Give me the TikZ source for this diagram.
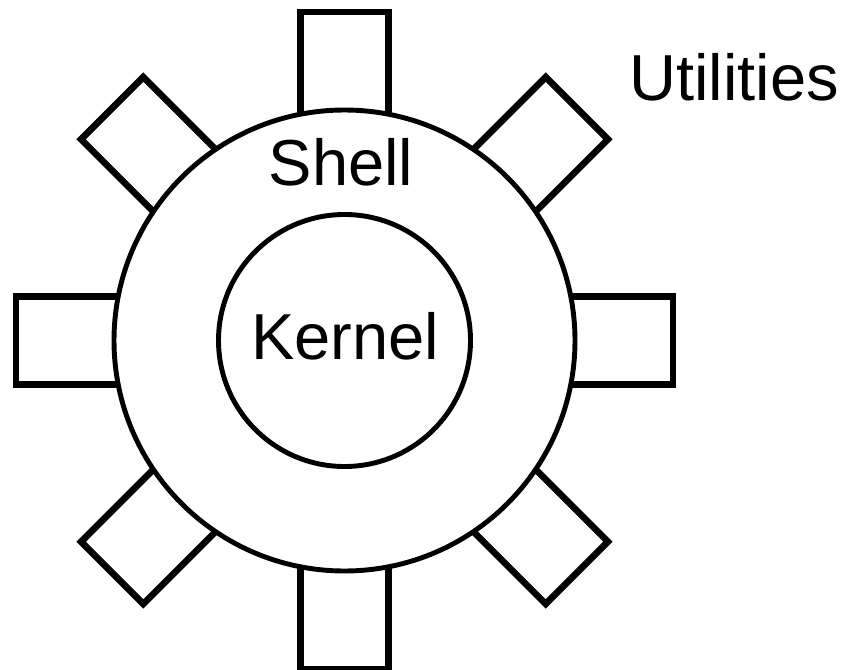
\documentclass[tikz,border=0pt]{standalone}
\usepackage{fontspec}
\setmainfont{Liberation Sans}

\tikzset{
  util/.style={line width=3.8pt},
  ring/.style={line width=2.8pt, fill=white},
  label/.style={font=\fontsize{37}{44}\selectfont, inner sep=0pt}
}

\begin{document}
\begin{tikzpicture}
\useasboundingbox (0,0) rectangle (16.98,13.38);
\begin{scope}[shift={(6.89,6.57)}]
\foreach \a in {0,45,...,315}
  \draw[util, rotate=\a] (-0.88,4.0) rectangle (0.88,6.57);
\draw[ring] (0,0) circle (4.61);
\draw[ring] (0,0) circle (2.52);
\end{scope}
\node[label, anchor=base] (kernel) at (6.9,6.2) {Kernel};
\node[label, anchor=base] (shell) at (6.82,9.68) {Shell};
\node[label, anchor=base west] (utilities) at (12.58,11.38) {Utilities};
\end{tikzpicture}
\end{document}
